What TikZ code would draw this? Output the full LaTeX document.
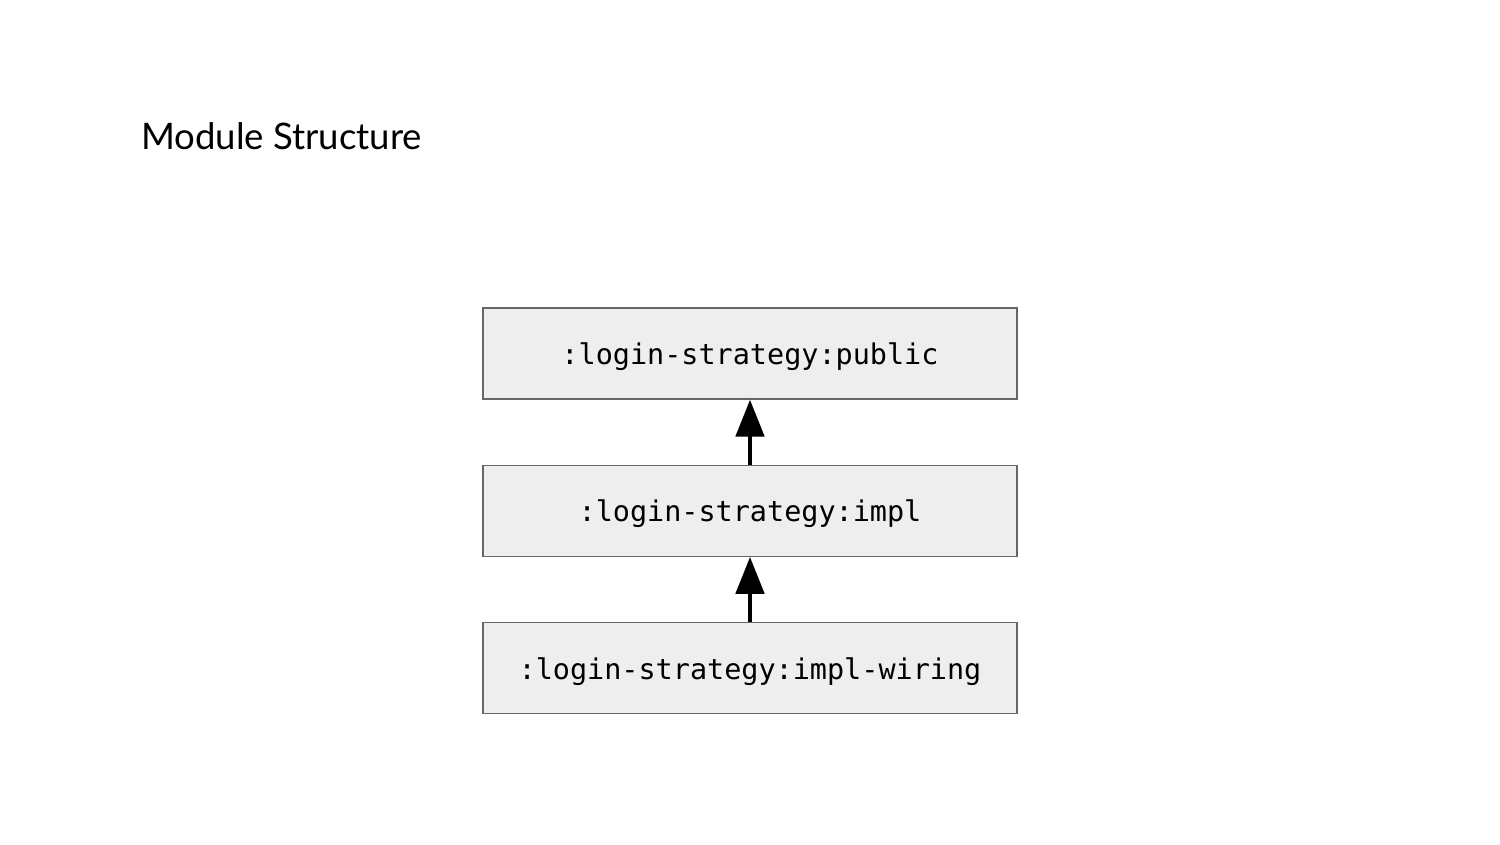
\documentclass[tikz,border=0pt]{standalone}
\usepackage{fontspec}
\setmainfont{Lato}
\setmonofont{DejaVu Sans Mono}
\usetikzlibrary{positioning,arrows.meta}
\definecolor{boxgray}{HTML}{EEEEEE}
\definecolor{edgegray}{HTML}{666666}

\begin{document}
\begin{tikzpicture}[
  module/.style={draw=edgegray, line width=0.7pt, fill=boxgray, minimum width=10.68cm, minimum height=1.82cm, text height=0.53cm, text depth=0.08cm, font=\fontsize{16.2}{19}\ttfamily},
  depends/.style={line width=2.8pt, -{Triangle[width=15.9pt,length=21pt]}}]
\useasboundingbox (0,0) rectangle (30,16.88);
\node[anchor=base west, font=\fontsize{20.8}{24}\selectfont] (title) at (2.70,13.88) {Module Structure};
\node[module] (public) at (15,9.81) {:login-strategy:public};
\node[module, below=1.30cm of public] (impl) {:login-strategy:impl};
\node[module, below=1.30cm of impl] (wiring) {:login-strategy:impl-wiring};
\draw[depends] (impl) -- (public);
\draw[depends] (wiring) -- (impl);
\end{tikzpicture}
\end{document}
